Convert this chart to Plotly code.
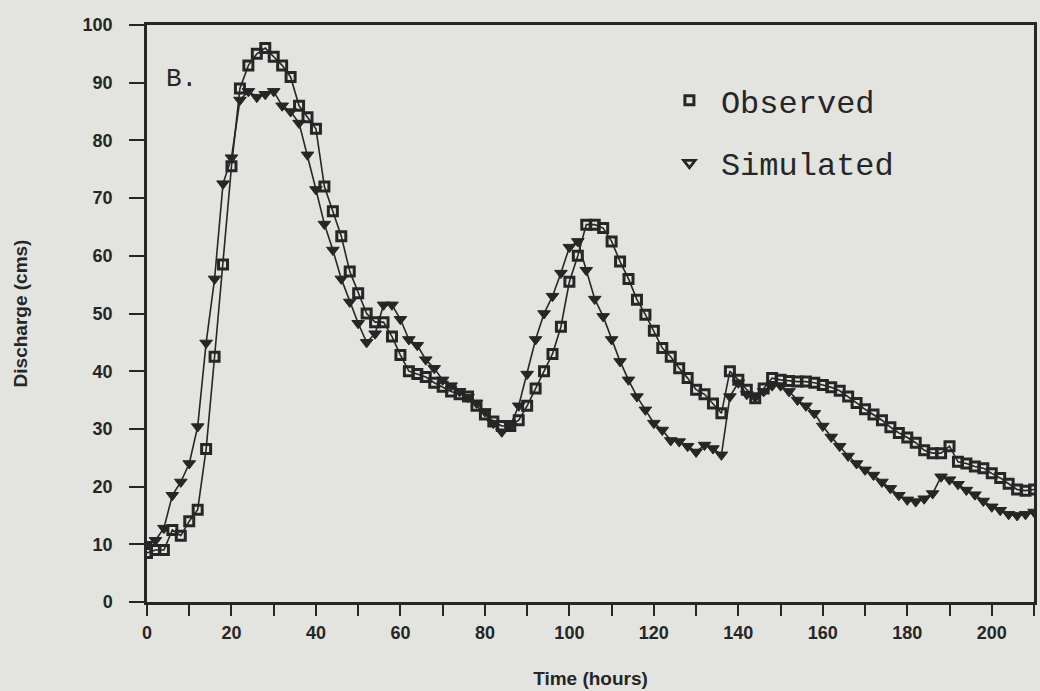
import plotly.graph_objects as go

hours = list(range(0, 211, 2))

observed = [
    8.5, 9, 9, 12.5, 11.5, 14, 16, 26.5, 42.5, 58.5,
    75.5, 89, 93, 95, 96, 94.5, 93, 91, 86, 84,
    82, 72, 67.7, 63.4, 57.3, 53.5, 50, 48.5, 48.5, 46,
    42.8, 40, 39.5, 39, 38, 37.3, 36.5, 36, 35.6, 34,
    32.5, 31.3, 30.5, 30.5, 31.5, 34, 37, 40, 43, 47.7,
    55.5, 60, 65.4, 65.4, 64.8, 62.5, 59, 56, 52.4, 49.8,
    47, 44, 42.5, 40.5, 38.8, 36.8, 36, 34.4, 32.7, 40,
    38.5, 36.8, 35.3, 37, 38.8, 38.5, 38.3, 38.2, 38.2, 38,
    37.6, 37.2, 36.6, 35.6, 34.5, 33.4, 32.5, 31.5, 30.3, 29.3,
    28.5, 27.6, 26.3, 25.8, 25.8, 27, 24.3, 24, 23.5, 23.2,
    22.3, 21.5, 20.5, 19.5, 19.3, 19.5,
]

simulated = [
    10, 10.7, 12.8, 18.5, 20.8, 24, 30.4, 44.9, 56, 72.5,
    77, 87, 88.5, 87.5, 88, 88.5, 86, 85, 83, 77.5,
    71.5, 65.5, 61, 56, 52, 48.3, 45, 46.5, 51.5, 51.5,
    49, 45.5, 44.5, 42, 40.5, 38.5, 37.5, 36.5, 35.5, 34.5,
    33, 31, 29.5, 30.5, 34, 39.5, 45.5, 50, 53, 57,
    61.5, 62.5, 57.5, 52.5, 49.5, 45.5, 41.7, 38.5, 35.6, 33.3,
    31, 29.8, 28, 27.8, 27, 26, 27.2, 26.6, 25.5, 35.6,
    38, 36, 35.5, 36.5, 37.5, 37.5, 36.5, 35, 34, 32.7,
    30.5, 28.6, 27, 25.3, 24, 22.9, 22, 20.8, 19.7, 18.5,
    17.7, 17.4, 17.9, 18.8, 21.7, 21.2, 20.4, 19.4, 18.6, 17.5,
    16.5, 15.9, 15.2, 15, 15.2, 15.6,
]

x_ticks = list(range(0, 201, 20))
y_ticks = list(range(0, 101, 10))

INK = "#262626"
BG = "#e3e4e0"
tick_font = dict(family="Liberation Sans", size=18, color=INK, weight="bold")
title_font = dict(family="Liberation Sans", size=19, color=INK, weight="bold")

fig = go.Figure()

fig.add_trace(go.Scatter(
    x=hours, y=observed, mode="lines+markers", showlegend=False,
    line=dict(color=INK, width=1.6),
    marker=dict(symbol="square-open", size=9, color=INK, line=dict(width=3, color=INK)),
))
fig.add_trace(go.Scatter(
    x=hours, y=simulated, mode="lines+markers", showlegend=False,
    line=dict(color=INK, width=1.6),
    marker=dict(symbol="triangle-down", size=11, color=INK, line=dict(width=1, color=INK)),
))

# legend entries (marker only)
fig.add_trace(go.Scatter(
    x=[None], y=[None], mode="markers", name="Observed", legendgroup="o",
    marker=dict(symbol="square-open", size=9, color=INK, line=dict(width=3, color=INK)),
))
fig.add_trace(go.Scatter(
    x=[None], y=[None], mode="markers", name="Simulated", legendgroup="s",
    marker=dict(symbol="triangle-down-open", size=10, color=INK, line=dict(width=2.8, color=INK)),
))

fig.add_annotation(
    x=4.1, y=90.6, xref="x", yref="y", text="B.", showarrow=False,
    xanchor="left", yanchor="middle",
    font=dict(family="Liberation Mono", size=26, color=INK),
)

fig.update_layout(
    width=1040, height=691,
    margin=dict(l=147, r=6, t=25, b=89),
    paper_bgcolor=BG, plot_bgcolor=BG,
    legend=dict(
        x=0.576, y=0.917, xanchor="left", yanchor="top",
        bgcolor="rgba(0,0,0,0)", borderwidth=0,
        font=dict(family="Liberation Mono", size=32, color=INK),
        traceorder="grouped", tracegroupgap=18,
        itemwidth=53,
    ),
    xaxis=dict(
        range=[0, 210], tickvals=x_ticks, ticktext=[str(v) for v in x_ticks],
        ticks="outside", ticklen=11, tickwidth=2, tickcolor=INK,
        minor=dict(dtick=10, tick0=0, ticks="outside", ticklen=11, tickwidth=2, tickcolor=INK),
        showline=True, linecolor=INK, linewidth=2.5, mirror=True,
        showgrid=False, zeroline=False, tickfont=tick_font, ticklabelstandoff=2,
        title=dict(text="Time (hours)", font=title_font, standoff=30),
        automargin=False,
    ),
    yaxis=dict(
        range=[0, 100], tickvals=y_ticks, ticktext=[str(v) for v in y_ticks],
        ticks="outside", ticklen=15, tickwidth=2, tickcolor=INK,
        showline=True, linecolor=INK, linewidth=2.5, mirror=True,
        showgrid=False, zeroline=False, tickfont=tick_font, ticklabelstandoff=13,
        title=dict(text="Discharge (cms)", font=title_font, standoff=50),
        automargin=False,
    ),
)

fig.write_html(
    "out.html",
    config={"displayModeBar": False},
    post_script="document.body.style.margin='0';document.body.style.background='#e3e4e0';"
                "document.documentElement.style.background='#e3e4e0';",
)
